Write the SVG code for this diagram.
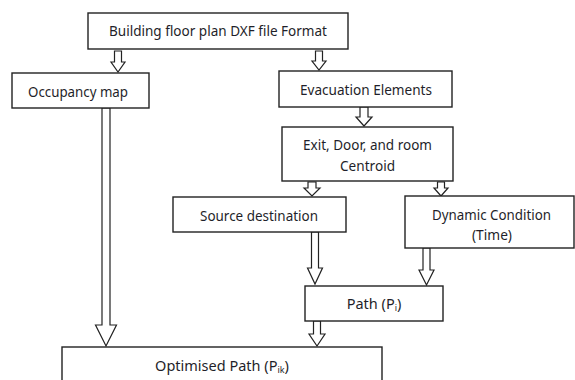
<svg xmlns="http://www.w3.org/2000/svg" width="575" height="380" viewBox="0 0 575 380">
<style>
.box{fill:#fff;stroke:#222;stroke-width:1.4}
.arr{fill:#fff;stroke:#222;stroke-width:1.2;stroke-linejoin:miter}
text{font-family:"Noto Sans","Open Sans","Liberation Sans",sans-serif;font-size:14.5px;fill:#1f1f2a;text-anchor:middle}
.sub{font-size:9px}
</style>
<rect width="575" height="380" fill="#fff"/>
<g id="connectors">
<polygon class="arr" points="114.5,51 121.5,51 121.5,62 125,62 118,72 111,62 114.5,62"/>
<polygon class="arr" points="315.5,51 322.5,51 322.5,61 326,61 319,70 312,61 315.5,61"/>
<polygon class="arr" points="360,107 368,107 368,117 372,117 364,126 356,117 360,117"/>
<polygon class="arr" points="308,182 316,182 316,188 320,188 312,196 304,188 308,188"/>
<polygon class="arr" points="437.5,182 444.5,182 444.5,188 448,188 441,196 434,188 437.5,188"/>
<polygon class="arr" points="102,108 110,108 110,325 116.5,325 106,346 95.5,325 102,325"/>
<polygon class="arr" points="311.5,232 318.5,232 318.5,268 322.5,268 315,284 307.5,268 311.5,268"/>
<polygon class="arr" points="423,248 430,248 430,270 434,270 426.5,285 419,270 423,270"/>
<polygon class="arr" points="313.5,321 320.5,321 320.5,334 325,334 317,346 309,334 313.5,334"/>
</g>
<g id="n-floorplan">
<rect class="box" x="88" y="13" width="260" height="36"/>
<text x="218" y="36" textLength="218" lengthAdjust="spacingAndGlyphs">Building floor plan DXF file Format</text>
</g>
<g id="n-occupancy">
<rect class="box" x="12" y="73" width="137" height="35"/>
<text x="78" y="97" textLength="100" lengthAdjust="spacingAndGlyphs">Occupancy map</text>
</g>
<g id="n-evacuation">
<rect class="box" x="279" y="71" width="173" height="36"/>
<text x="366" y="95" textLength="132" lengthAdjust="spacingAndGlyphs">Evacuation Elements</text>
</g>
<g id="n-exit">
<rect class="box" x="282" y="127" width="171" height="54"/>
<text x="367.5" y="150" textLength="129" lengthAdjust="spacingAndGlyphs">Exit, Door, and room</text>
<text x="367.5" y="171" textLength="55" lengthAdjust="spacingAndGlyphs">Centroid</text>
</g>
<g id="n-source">
<rect class="box" x="173" y="197" width="173" height="35"/>
<text x="259" y="221" textLength="118" lengthAdjust="spacingAndGlyphs">Source destination</text>
</g>
<g id="n-dynamic">
<rect class="box" x="405" y="196" width="169" height="52"/>
<text x="491.5" y="220" textLength="119" lengthAdjust="spacingAndGlyphs">Dynamic Condition</text>
<text x="492" y="240" textLength="40" lengthAdjust="spacingAndGlyphs">(Time)</text>
</g>
<g id="n-path">
<rect class="box" x="305" y="286" width="138" height="35"/>
<text x="374" y="309">Path (P<tspan class="sub" dy="2">i</tspan><tspan dy="-2">)</tspan></text>
</g>
<g id="n-optimised">
<rect class="box" x="62" y="347" width="320" height="40"/>
<text x="222" y="371">Optimised Path (P<tspan class="sub" dy="2">ik</tspan><tspan dy="-2">)</tspan></text>
</g>
</svg>
